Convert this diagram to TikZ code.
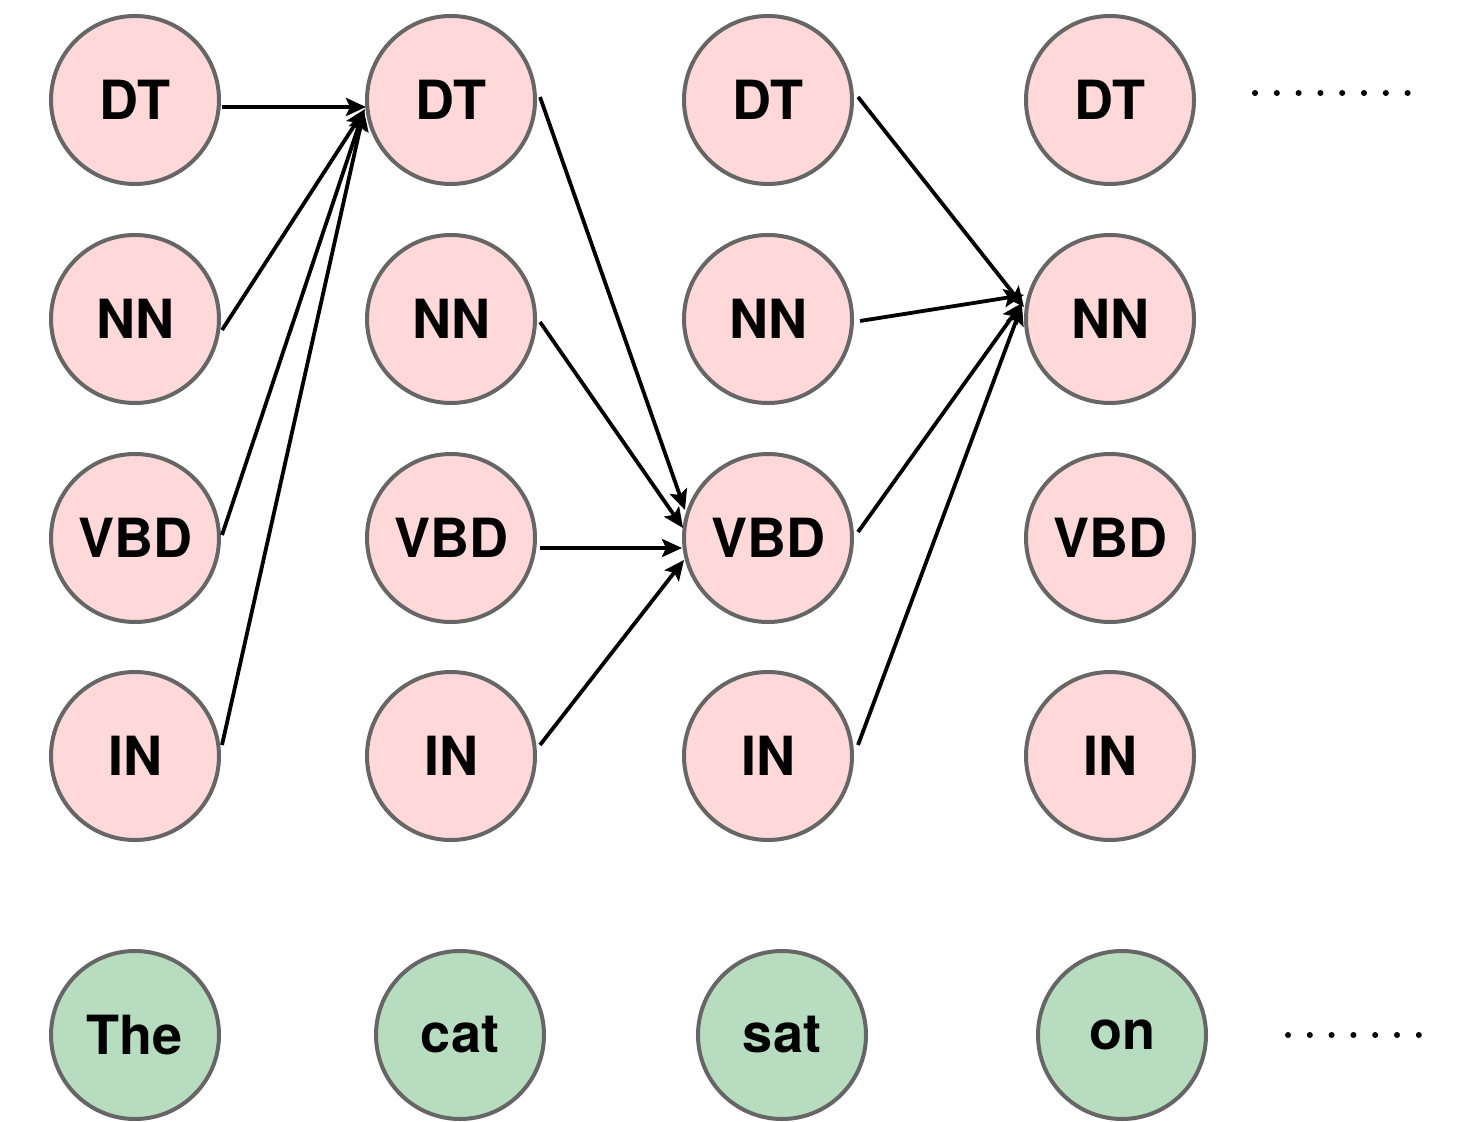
\documentclass[tikz,border=0pt]{standalone}
\usepackage{fontspec}
\setmainfont{TeX Gyre Heros}
\usetikzlibrary{arrows.meta,calc}
\definecolor{tagfill}{HTML}{FFD9D9}
\definecolor{wordfill}{HTML}{B8DCBF}
\definecolor{ring}{HTML}{666666}
\tikzset{
  tag/.style={circle,draw=ring,line width=2pt,fill=tagfill,minimum size=84pt,inner sep=0pt,font=\fontsize{27}{30}\selectfont\bfseries},
  word/.style={circle,draw=ring,line width=2pt,fill=wordfill,minimum size=84pt,inner sep=0pt,font=\fontsize{27}{30}\selectfont\bfseries},
  link/.style={line width=1.9pt,-{Stealth[length=10pt,width=9pt,inset=2pt]}},
  dotrow/.style={line width=3pt,line cap=round,dash pattern=on 0pt off 10.9pt}
}
\begin{document}
\begin{tikzpicture}[x=0.5pt,y=-0.5pt]
\useasboundingbox (0,0) rectangle (1460,1122);
% tag columns
\foreach \c/\x in {1/135,2/451,3/768,4/1110}{
  \node[tag] (dt\c)  at (\x,100) {DT};
  \node[tag] (nn\c)  at (\x,319) {NN};
  \node[tag] (vbd\c) at (\x,538) {VBD};
  \node[tag] (in\c)  at (\x,756) {IN};
}
% words
\node[word] (w1) at (135,1035) {The};
\node[word] (w2) at (460,1035) {cat};
\node[word] (w3) at (782,1035) {sat};
\node[word] (w4) at (1122,1035) {on};
% dots
\coordinate (da) at (1255,93);
\coordinate (db) at (1420,93);
\coordinate (dc) at (1288,1035);
\coordinate (dd) at (1430,1035);
\draw[dotrow] (da) -- (db);
\draw[dotrow] (dc) -- (dd);
% edges into DT2
\draw[link] ($(dt1.center)+(87,7)$) -- ($(dt2.center)+(-85,7)$);
\draw[link] ($(nn1.center)+(87,11)$) -- ($(dt2.center)+(-86,9)$);
\draw[link] ($(vbd1.center)+(87,-3)$) -- ($(dt2.center)+(-87,10)$);
\draw[link] ($(in1.center)+(87,-11)$) -- ($(dt2.center)+(-87,11)$);
% edges into VBD3
\draw[link] ($(dt2.center)+(89,-3)$) -- ($(vbd3.center)+(-83,-28)$);
\draw[link] ($(nn2.center)+(89,3)$) -- ($(vbd3.center)+(-85,-10)$);
\draw[link] ($(vbd2.center)+(89,10)$) -- ($(vbd3.center)+(-86,10)$);
\draw[link] ($(in2.center)+(89,-11)$) -- ($(vbd3.center)+(-84,22)$);
% edges into NN4
\draw[link] ($(dt3.center)+(90,-3)$) -- ($(nn4.center)+(-86,-12)$);
\draw[link] ($(nn3.center)+(92,2)$) -- ($(nn4.center)+(-86,-24)$);
\draw[link] ($(vbd3.center)+(90,-6)$) -- ($(nn4.center)+(-88,-16)$);
\draw[link] ($(in3.center)+(90,-11)$) -- ($(nn4.center)+(-88,-14)$);
\end{tikzpicture}
\end{document}
